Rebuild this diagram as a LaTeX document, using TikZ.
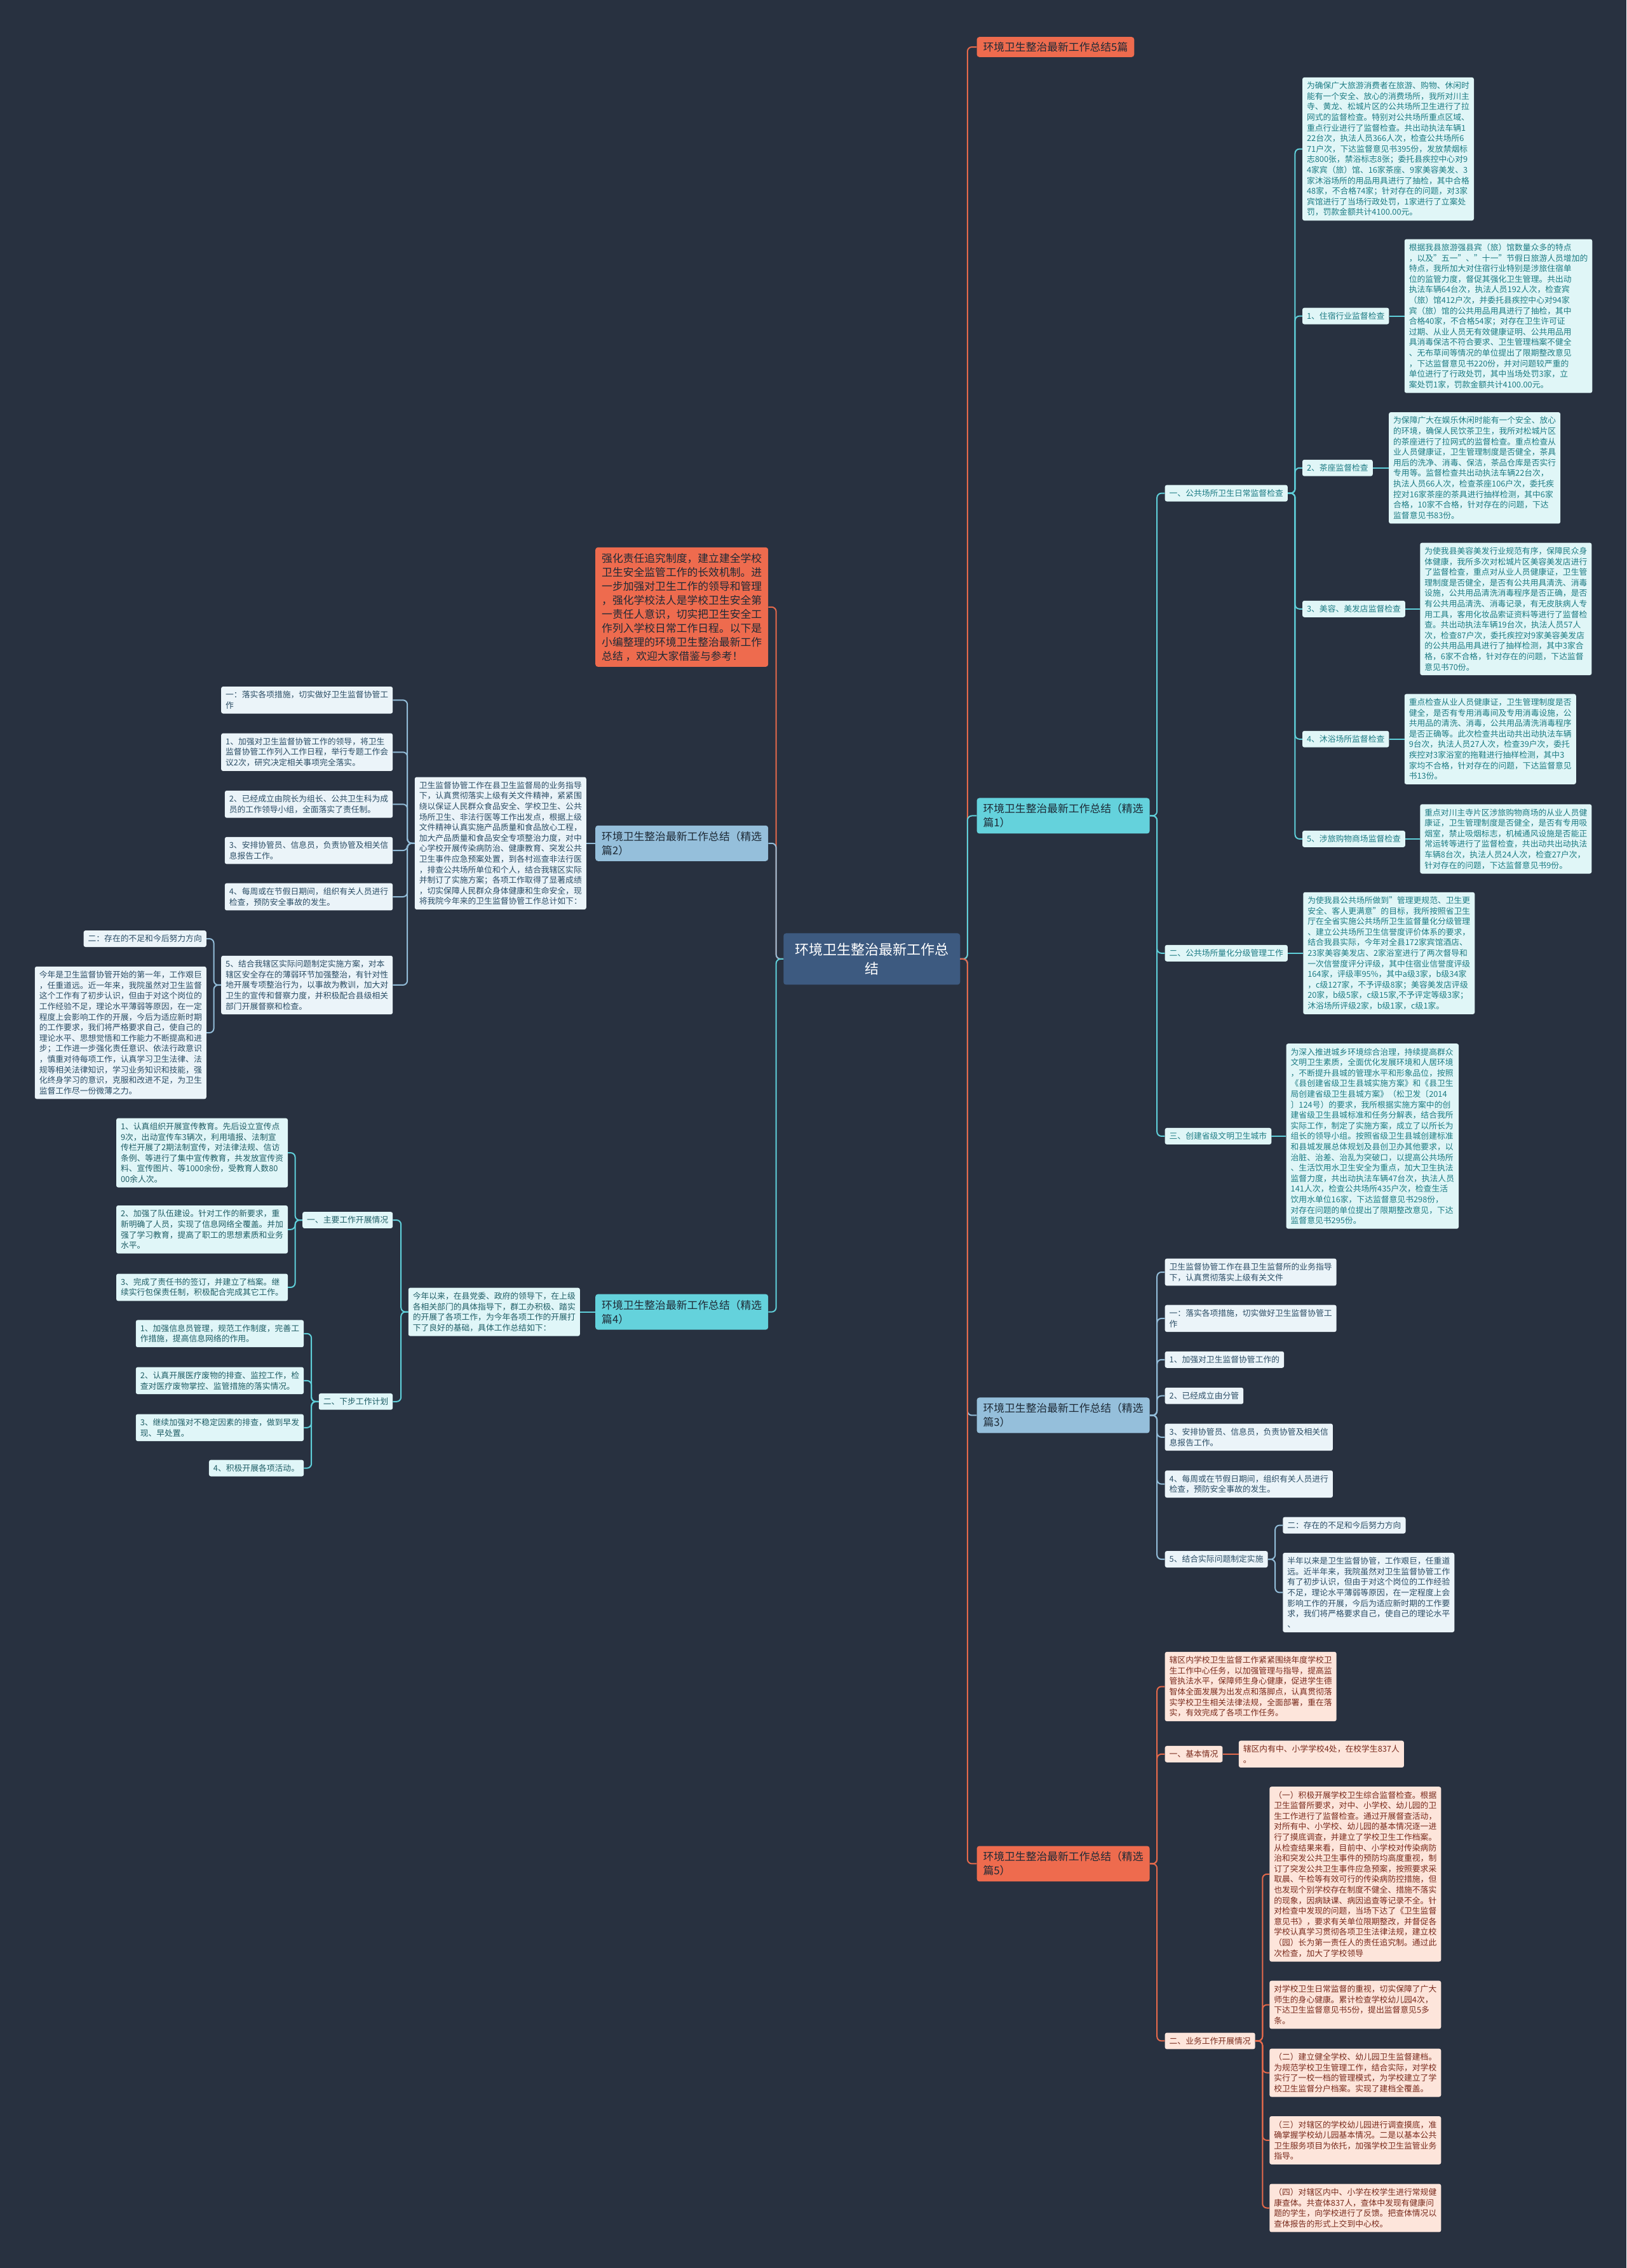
\documentclass[tikz,border=0pt]{standalone}
\usepackage{fontspec}
\setmainfont{Noto Sans CJK SC}
\usetikzlibrary{positioning}
\definecolor{bg}{HTML}{283140}
\definecolor{rootfill}{HTML}{3D5A80}
\definecolor{coral}{HTML}{EE6B4E}
\definecolor{cyanB}{HTML}{64D2DC}
\definecolor{lblue}{HTML}{95BFDB}
\definecolor{cyanLine}{HTML}{5FCFD9}
\definecolor{lblueLine}{HTML}{92BCD8}
\definecolor{coralLine}{HTML}{E4694B}
\definecolor{leafAfill}{HTML}{E0F6F7}
\definecolor{leafAtext}{HTML}{1D7C84}
\definecolor{leafBfill}{HTML}{EBF4F9}
\definecolor{leafBtext}{HTML}{2C4E66}
\definecolor{leafCfill}{HTML}{E0F6F8}
\definecolor{leafCtext}{HTML}{1F5E66}
\definecolor{leafDfill}{HTML}{FDE5DB}
\definecolor{leafDtext}{HTML}{7A2B1D}
\definecolor{darktext}{HTML}{1E2A36}
\tikzset{
 conn/.style={line width=2pt, rounded corners=7pt},
 base/.style={rounded corners=3pt, align=left, inner xsep=7pt, inner ysep=7pt, font=\fontsize{12.8}{16.6}\selectfont},
 leafA/.style={base, fill=leafAfill, text=leafAtext},
 leafB/.style={base, fill=leafBfill, text=leafBtext},
 leafC/.style={base, fill=leafCfill, text=leafCtext},
 leafD/.style={base, fill=leafDfill, text=leafDtext},
 bigbox/.style={rounded corners=4pt, align=left, inner xsep=10pt, inner ysep=9pt, font=\fontsize{16.8}{22}\selectfont, text=darktext},
 rootbox/.style={rounded corners=4pt, align=center, fill=rootfill, text=white, font=\fontsize{22}{30}\selectfont, minimum width=278pt, minimum height=81pt},
}
\newcommand\mmR[3]{\draw[conn,#1] (#2.east) -- ++(5,0) |- (#3.west);}
\newcommand\mmL[3]{\draw[conn,#1] (#2.west) -- ++(-5,0) |- (#3.east);}
\newcommand\mmRs[3]{\draw[conn,#1] (#2.east) -- (#3.west);}
\newcommand\mmLs[3]{\draw[conn,#1] (#2.west) -- (#3.east);}
\begin{document}
\begin{tikzpicture}[x=2.27758pt,y=-2.27742pt]
\fill[bg] (0,0) rectangle (1124,1568);
\useasboundingbox (0,0) rectangle (1124,1568);

% root
\node[rootbox] (root) at (602.5,663) {环境卫生整治最新工作总\\结};

% right first level
\node[bigbox, fill=coral, anchor=west, inner ysep=8pt] (T0) at (675,32.5) {环境卫生整治最新工作总结5篇};
\node[bigbox, fill=cyanB, anchor=west] (R1) at (675,564) {环境卫生整治最新工作总结（精选\\篇1）};
\node[bigbox, fill=lblue, anchor=west] (R3) at (675,978.5) {环境卫生整治最新工作总结（精选\\篇3）};
\node[bigbox, fill=coral, anchor=west] (R5) at (675,1288.5) {环境卫生整治最新工作总结（精选\\篇5）};

% left first level
\node[bigbox, fill=coral, anchor=east] (intro) at (531,419.7) {强化责任追究制度，建立建全学校\\卫生安全监管工作的长效机制。进\\一步加强对卫生工作的领导和管理\\，强化学校法人是学校卫生安全第\\一责任人意识，切实把卫生安全工\\作列入学校日常工作日程。以下是\\小编整理的环境卫生整治最新工作\\总结 ，欢迎大家借鉴与参考！};
\node[bigbox, fill=lblue, anchor=east] (L2) at (531,583) {环境卫生整治最新工作总结（精选\\篇2）};
\node[bigbox, fill=cyanB, anchor=east] (L4) at (531,907) {环境卫生整治最新工作总结（精选\\篇4）};

% ===== branch 1 =====
\node[leafA, anchor=west] (a1) at (805,341) {一、公共场所卫生日常监督检查};
\node[leafA, anchor=west] (a2) at (805,659) {二、公共场所量化分级管理工作};
\node[leafA, anchor=west] (a3) at (805,785.5) {三、创建省级文明卫生城市};

\node[leafA, anchor=west] (A) at (900,103) {为确保广大旅游消费者在旅游、购物、休闲时\\能有一个安全、放心的消费场所，我所对川主\\寺、黄龙、松城片区的公共场所卫生进行了拉\\网式的监督检查。特别对公共场所重点区域、\\重点行业进行了监督检查。共出动执法车辆1\\22台次，执法人员366人次，检查公共场所6\\71户次，下达监督意见书395份，发放禁烟标\\志800张，禁浴标志8张；委托县疾控中心对9\\4家宾（旅）馆、16家茶座、9家美容美发、3\\家沐浴场所的用品用具进行了抽检，其中合格\\48家，不合格74家；针对存在的问题，对3家\\宾馆进行了当场行政处罚，1家进行了立案处\\罚，罚款金额共计4100.00元。};

\node[leafA, anchor=west] (l1) at (900,218.5) {1、住宿行业监督检查};
\node[leafA, right=24pt of l1] (B) {根据我县旅游强县宾（旅）馆数量众多的特点\\，以及"五一"、"十一"节假日旅游人员增加的\\特点，我所加大对住宿行业特别是涉旅住宿单\\位的监管力度，督促其强化卫生管理。共出动\\执法车辆64台次，执法人员192人次，检查宾\\（旅）馆412户次，并委托县疾控中心对94家\\宾（旅）馆的公共用品用具进行了抽检，其中\\合格40家，不合格54家；对存在卫生许可证\\过期、从业人员无有效健康证明、公共用品用\\具消毒保洁不符合要求、卫生管理档案不健全\\、无布草间等情况的单位提出了限期整改意见\\，下达监督意见书220份，并对问题较严重的\\单位进行了行政处罚，其中当场处罚3家，立\\案处罚1家，罚款金额共计4100.00元。};

\node[leafA, anchor=west] (l2) at (900,323.5) {2、茶座监督检查};
\node[leafA, right=25pt of l2] (C) {为保障广大在娱乐休闲时能有一个安全、放心\\的环境，确保人民饮茶卫生，我所对松城片区\\的茶座进行了拉网式的监督检查。重点检查从\\业人员健康证，卫生管理制度是否健全，茶具\\用后的洗净、消毒、保洁，茶品仓库是否实行\\专用等。监督检查共出动执法车辆22台次，\\执法人员66人次，检查茶座106户次，委托疾\\控对16家茶座的茶具进行抽样检测，其中6家\\合格，10家不合格，针对存在的问题，下达\\监督意见书83份。};

\node[leafA, anchor=west] (l3) at (900,421) {3、美容、美发店监督检查};
\node[leafA, right=23pt of l3] (D) {为使我县美容美发行业规范有序，保障民众身\\体健康，我所多次对松城片区美容美发店进行\\了监督检查，重点对从业人员健康证，卫生管\\理制度是否健全，是否有公共用具清洗、消毒\\设施，公共用品清洗消毒程序是否正确，是否\\有公共用品清洗、消毒记录，有无皮肤病人专\\用工具，客用化妆品索证资料等进行了监督检\\查。共出动执法车辆19台次，执法人员57人\\次，检查87户次，委托疾控对9家美容美发店\\的公共用品用具进行了抽样检测，其中3家合\\格，6家不合格，针对存在的问题，下达监督\\意见书70份。};

\node[leafA, anchor=west] (l4) at (900,511) {4、沐浴场所监督检查};
\node[leafA, right=24pt of l4] (E) {重点检查从业人员健康证，卫生管理制度是否\\健全，是否有专用消毒间及专用消毒设施，公\\共用品的清洗、消毒，公共用品清洗消毒程序\\是否正确等。此次检查共出动共出动执法车辆\\9台次，执法人员27人次，检查39户次，委托\\疾控对3家浴室的拖鞋进行抽样检测，其中3\\家均不合格，针对存在的问题，下达监督意见\\书13份。};

\node[leafA, anchor=west] (l5) at (900,580) {5、涉旅购物商场监督检查};
\node[leafA, right=23pt of l5] (F) {重点对川主寺片区涉旅购物商场的从业人员健\\康证，卫生管理制度是否健全，是否有专用吸\\烟室，禁止吸烟标志，机械通风设施是否能正\\常运转等进行了监督检查，共出动共出动执法\\车辆8台次，执法人员24人次，检查27户次，\\针对存在的问题，下达监督意见书9份。};

\node[leafA, right=24pt of a2] (G) {为使我县公共场所做到"管理更规范、卫生更\\安全、客人更满意"的目标，我所按照省卫生\\厅在全省实施公共场所卫生监督量化分级管理\\、建立公共场所卫生信誉度评价体系的要求，\\结合我县实际，今年对全县172家宾馆酒店、\\23家美容美发店、2家浴室进行了两次督导和\\一次信誉度评分评级，其中住宿业信誉度评级\\164家，评级率95\%，其中a级3家，b级34家\\，c级127家，不予评级8家；美容美发店评级\\20家，b级5家，c级15家,不予评定等级3家；\\沐浴场所评级2家，b级1家，c级1家。};

\node[leafA, right=23pt of a3] (H) {为深入推进城乡环境综合治理，持续提高群众\\文明卫生素质，全面优化发展环境和人居环境\\，不断提升县城的管理水平和形象品位，按照\\《县创建省级卫生县城实施方案》和《县卫生\\局创建省级卫生县城方案》（松卫发〔2014\\〕124号）的要求，我所根据实施方案中的创\\建省级卫生县城标准和任务分解表，结合我所\\实际工作，制定了实施方案，成立了以所长为\\组长的领导小组。按照省级卫生县城创建标准\\和县城发展总体规划及县创卫办其他要求，以\\治脏、治差、治乱为突破口，以提高公共场所\\、生活饮用水卫生安全为重点，加大卫生执法\\监督力度，共出动执法车辆47台次，执法人员\\141人次，检查公共场所435户次，检查生活\\饮用水单位16家，下达监督意见书298份，\\对存在问题的单位提出了限期整改意见，下达\\监督意见书295份。};

% ===== branch 3 =====
\node[leafB, anchor=west] (b0) at (805,879.5) {卫生监督协管工作在县卫生监督所的业务指导\\下，认真贯彻落实上级有关文件};
\node[leafB, anchor=west] (b1) at (805,911.5) {一：落实各项措施，切实做好卫生监督协管工\\作};
\node[leafB, anchor=west] (b2) at (805,940) {1、加强对卫生监督协管工作的};
\node[leafB, anchor=west] (b3) at (805,965) {2、已经成立由分管};
\node[leafB, anchor=west] (b4) at (805,993.6) {3、安排协管员、信息员，负责协管及相关信\\息报告工作。};
\node[leafB, anchor=west] (b5) at (805,1026) {4、每周或在节假日期间，组织有关人员进行\\检查，预防安全事故的发生。};
\node[leafB, anchor=west] (b6) at (805,1078) {5、结合实际问题制定实施};
\node[leafB, anchor=west] (b61) at (886.5,1054.5) {二：存在的不足和今后努力方向};
\node[leafB, anchor=west] (b62) at (886.5,1101) {半年以来是卫生监督协管，工作艰巨，任重道\\远。近半年来，我院虽然对卫生监督协管工作\\有了初步认识，但由于对这个岗位的工作经验\\不足，理论水平薄弱等原因，在一定程度上会\\影响工作的开展，今后为适应新时期的工作要\\求，我们将严格要求自己，使自己的理论水平\\、};

% ===== branch 5 =====
\node[leafD, anchor=west] (c0) at (805,1166) {辖区内学校卫生监督工作紧紧围绕年度学校卫\\生工作中心任务，以加强管理与指导，提高监\\管执法水平，保障师生身心健康，促进学生德\\智体全面发展为出发点和落脚点，认真贯彻落\\实学校卫生相关法律法规，全面部署，重在落\\实，有效完成了各项工作任务。};
\node[leafD, anchor=west] (c1) at (805,1212.7) {一、基本情况};
\node[leafD, right=25pt of c1] (c1t) {辖区内有中、小学学校4处，在校学生837人\\。};
\node[leafD, anchor=west] (c2) at (805,1411) {二、业务工作开展情况};
\node[leafD, anchor=west] (c2a) at (877.3,1295.7) {（一）积极开展学校卫生综合监督检查。根据\\卫生监督所要求，对中、小学校、幼儿园的卫\\生工作进行了监督检查。通过开展督查活动，\\对所有中、小学校、幼儿园的基本情况逐一进\\行了摸底调查，并建立了学校卫生工作档案。\\从检查结果来看，目前中、小学校对传染病防\\治和突发公共卫生事件的预防均高度重视，制\\订了突发公共卫生事件应急预案，按照要求采\\取晨、午检等有效可行的传染病防控措施，但\\也发现个别学校存在制度不健全、措施不落实\\的现象，因病缺课、病因追查等记录不全。针\\对检查中发现的问题，当场下达了《卫生监督\\意见书》，要求有关单位限期整改，并督促各\\学校认真学习贯彻各项卫生法律法规，建立校\\（园）长为第一责任人的责任追究制。通过此\\次检查，加大了学校领导};
\node[leafD, anchor=west] (c2b) at (877.3,1386) {对学校卫生日常监督的重视，切实保障了广大\\师生的身心健康。累计检查学校幼儿园4次，\\下达卫生监督意见书5份，提出监督意见5多\\条。};
\node[leafD, anchor=west] (c2c) at (877.3,1433) {（二）建立健全学校、幼儿园卫生监督建档。\\为规范学校卫生管理工作，结合实际，对学校\\实行了一校一档的管理模式，为学校建立了学\\校卫生监督分户档案。实现了建档全覆盖。};
\node[leafD, anchor=west] (c2d) at (877.3,1479.7) {（三）对辖区的学校幼儿园进行调查摸底，准\\确掌握学校幼儿园基本情况。二是以基本公共\\卫生服务项目为依托，加强学校卫生监管业务\\指导。};
\node[leafD, anchor=west] (c2e) at (877.3,1526.5) {（四）对辖区内中、小学在校学生进行常规健\\康查体。共查体837人，查体中发现有健康问\\题的学生，向学校进行了反馈。把查体情况以\\查体报告的形式上交到中心校。};

% ===== branch 2 (left) =====
\node[leafB, left=14pt of L2] (L2t) {卫生监督协管工作在县卫生监督局的业务指导\\下，认真贯彻落实上级有关文件精神，紧紧围\\绕以保证人民群众食品安全、学校卫生、公共\\场所卫生、非法行医等工作出发点，根据上级\\文件精神认真实施产品质量和食品放心工程，\\加大产品质量和食品安全专项整治力度，对中\\心学校开展传染病防治、健康教育、突发公共\\卫生事件应急预案处置，到各村巡查非法行医\\，排查公共场所单位和个人，结合我辖区实际\\并制订了实施方案；各项工作取得了显著成绩\\，切实保障人民群众身体健康和生命安全，现\\将我院今年来的卫生监督协管工作总计如下：};
\node[leafB, anchor=east] (d1) at (271.5,484) {一：落实各项措施，切实做好卫生监督协管工\\作};
\node[leafB, anchor=east] (d2) at (271.5,520) {1、加强对卫生监督协管工作的领导，将卫生\\监督协管工作列入工作日程，举行专题工作会\\议2次，研究决定相关事项完全落实。};
\node[leafB, anchor=east] (d3) at (271.5,556) {2、已经成立由院长为组长、公共卫生科为成\\员的工作领导小组，全面落实了责任制。};
\node[leafB, anchor=east] (d4) at (271.5,588) {3、安排协管员、信息员，负责协管及相关信\\息报告工作。};
\node[leafB, anchor=east] (d5) at (271.5,620) {4、每周或在节假日期间，组织有关人员进行\\检查，预防安全事故的发生。};
\node[leafB, anchor=east] (d6) at (271.5,681) {5、结合我辖区实际问题制定实施方案，对本\\辖区安全存在的薄弱环节加强整治，有针对性\\地开展专项整治行为，以事故为教训，加大对\\卫生的宣传和督察力度，并积极配合县级相关\\部门开展督察和检查。};
\node[leafB, anchor=east] (e1) at (142.7,649) {二：存在的不足和今后努力方向};
\node[leafB, anchor=east] (e2) at (142.7,714) {今年是卫生监督协管开始的第一年，工作艰巨\\，任重道远。近一年来，我院虽然对卫生监督\\这个工作有了初步认识，但由于对这个岗位的\\工作经验不足，理论水平薄弱等原因，在一定\\程度上会影响工作的开展，今后为适应新时期\\的工作要求，我们将严格要求自己，使自己的\\理论水平、思想觉悟和工作能力不断提高和进\\步；工作进一步强化责任意识、依法行政意识\\，慎重对待每项工作，认真学习卫生法律、法\\规等相关法律知识，学习业务知识和技能，强\\化终身学习的意识，克服和改进不足，为卫生\\监督工作尽一份微薄之力。};

% ===== branch 4 (left) =====
\node[leafC, left=24pt of L4] (L4t) {今年以来，在县党委、政府的领导下，在上级\\各相关部门的具体指导下，群工办积极、踏实\\的开展了各项工作，为今年各项工作的开展打\\下了良好的基础，具体工作总结如下：};
\node[leafC, anchor=east] (m1) at (271.5,843.5) {一、主要工作开展情况};
\node[leafC, anchor=east] (m2) at (271.5,969) {二、下步工作计划};
\node[leafC, anchor=east] (m11) at (199,797) {1、认真组织开展宣传教育。先后设立宣传点\\9次，出动宣传车3辆次，利用墙报、法制宣\\传栏开展了2期法制宣传，对法律法规、信访\\条例、等进行了集中宣传教育，共发放宣传资\\料、宣传图片、等1000余份，受教育人数80\\00余人次。};
\node[leafC, anchor=east] (m12) at (199,850) {2、加强了队伍建设。针对工作的新要求，重\\新明确了人员，实现了信息网络全覆盖。并加\\强了学习教育，提高了职工的思想素质和业务\\水平。};
\node[leafC, anchor=east] (m13) at (199,890) {3、完成了责任书的签订，并建立了档案。继\\续实行包保责任制，积极配合完成其它工作。};
\node[leafC, anchor=east] (m21) at (210,922) {1、加强信息员管理，规范工作制度，完善工\\作措施，提高信息网络的作用。};
\node[leafC, anchor=east] (m22) at (210,954.5) {2、认真开展医疗废物的排查、监控工作，检\\查对医疗废物掌控、监管措施的落实情况。};
\node[leafC, anchor=east] (m23) at (210,987) {3、继续加强对不稳定因素的排查，做到早发\\现、早处置。};
\node[leafC, anchor=east] (m24) at (210,1015) {4、积极开展各项活动。};

% ===== connectors =====
\mmR{coralLine}{root}{T0}
\mmR{cyanLine}{root}{R1}
\mmR{lblueLine}{root}{R3}
\mmR{coralLine}{root}{R5}
\mmL{coralLine}{root}{intro}
\mmL{lblueLine}{root}{L2}
\mmL{cyanLine}{root}{L4}

\mmR{cyanLine}{R1}{a1}
\mmR{cyanLine}{R1}{a2}
\mmR{cyanLine}{R1}{a3}
\mmR{cyanLine}{a1}{A}
\mmR{cyanLine}{a1}{l1}
\mmR{cyanLine}{a1}{l2}
\mmR{cyanLine}{a1}{l3}
\mmR{cyanLine}{a1}{l4}
\mmR{cyanLine}{a1}{l5}
\mmRs{cyanLine}{l1}{B}
\mmRs{cyanLine}{l2}{C}
\mmRs{cyanLine}{l3}{D}
\mmRs{cyanLine}{l4}{E}
\mmRs{cyanLine}{l5}{F}
\mmRs{cyanLine}{a2}{G}
\mmRs{cyanLine}{a3}{H}

\foreach \n in {b0,b1,b2,b3,b4,b5,b6} {\mmR{lblueLine}{R3}{\n}}
\mmR{lblueLine}{b6}{b61}
\mmR{lblueLine}{b6}{b62}

\foreach \n in {c0,c1,c2} {\mmR{coralLine}{R5}{\n}}
\mmRs{coralLine}{c1}{c1t}
\foreach \n in {c2a,c2b,c2c,c2d,c2e} {\mmR{coralLine}{c2}{\n}}

\mmLs{lblueLine}{L2}{L2t}
\foreach \n in {d1,d2,d3,d4,d5,d6} {\mmL{lblueLine}{L2t}{\n}}
\mmL{lblueLine}{d6}{e1}
\mmL{lblueLine}{d6}{e2}

\mmLs{cyanLine}{L4}{L4t}
\mmL{cyanLine}{L4t}{m1}
\mmL{cyanLine}{L4t}{m2}
\foreach \n in {m11,m12,m13} {\mmL{cyanLine}{m1}{\n}}
\foreach \n in {m21,m22,m23,m24} {\mmL{cyanLine}{m2}{\n}}
\end{tikzpicture}
\end{document}
